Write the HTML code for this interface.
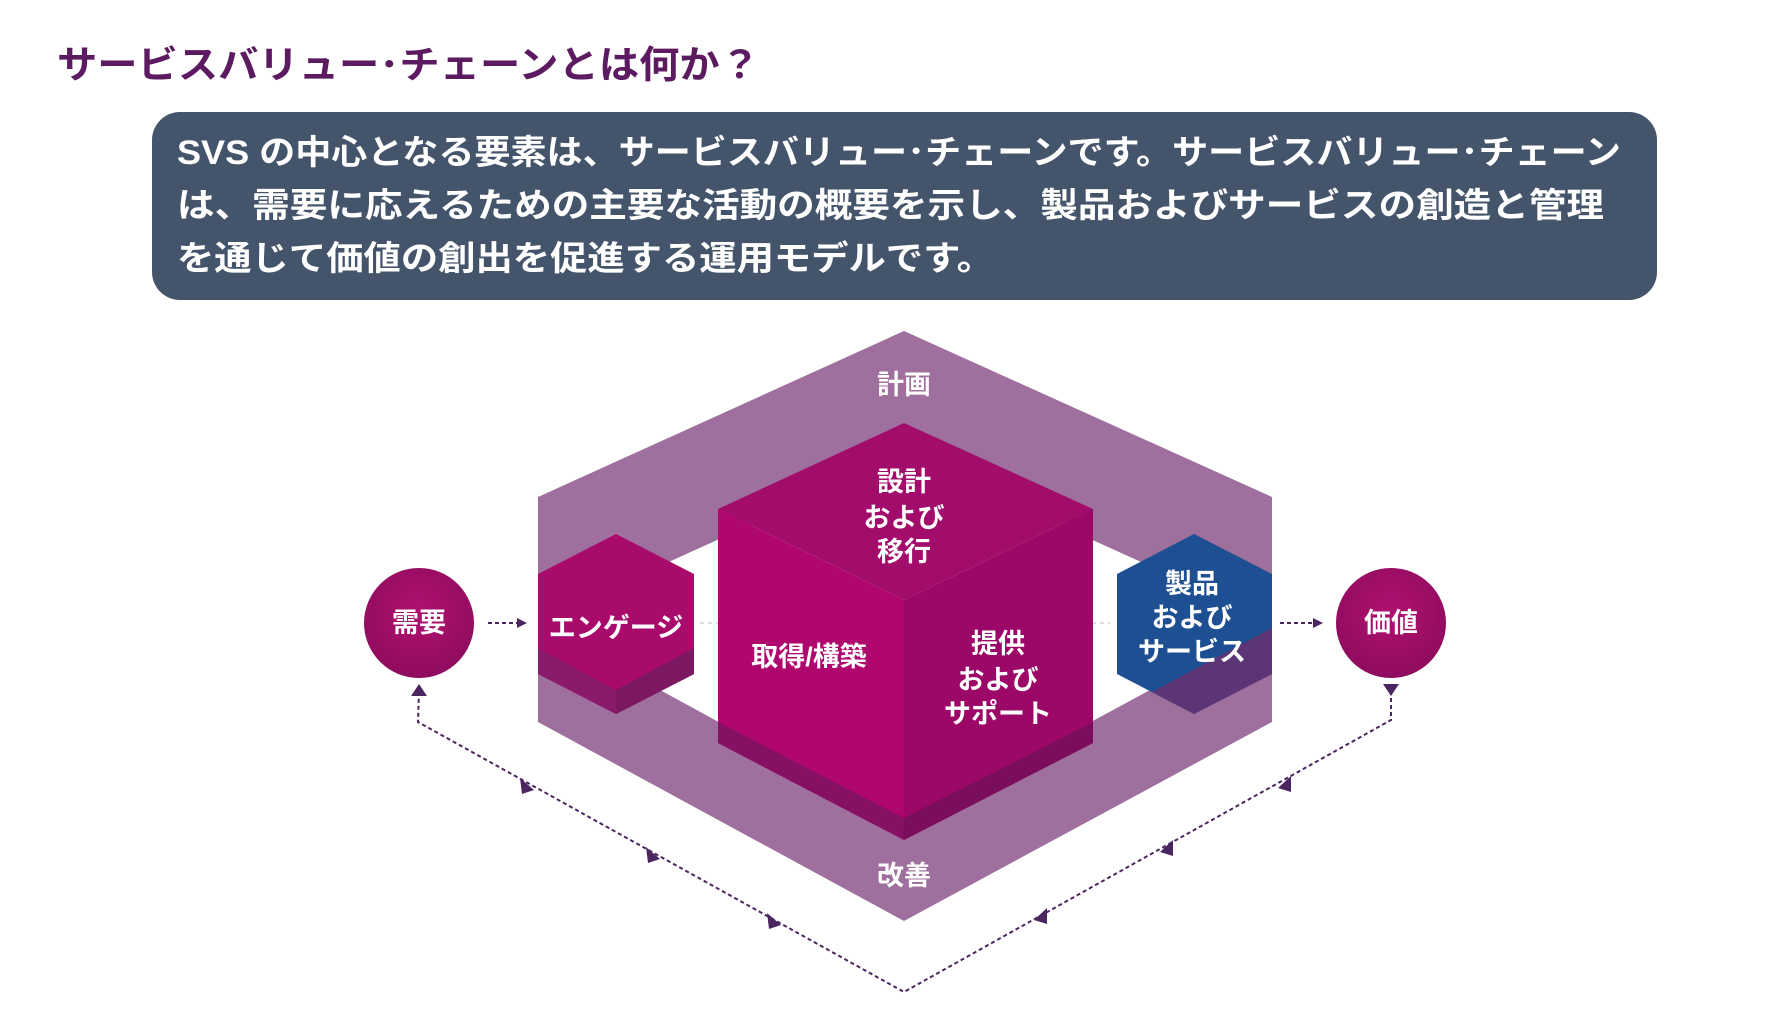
<!DOCTYPE html>
<html><head><meta charset="utf-8"><style>
body{margin:0;width:1792px;height:1034px;background:#fff;overflow:hidden;font-family:"Liberation Sans","Noto Sans CJK JP",sans-serif}
svg{position:absolute;left:0;top:0}
</style></head><body>
<svg width="1792" height="1034" viewBox="0 0 1792 1034" xmlns="http://www.w3.org/2000/svg" font-family="Liberation Sans, Noto Sans CJK JP, sans-serif">
<defs>
<radialGradient id="cg" cx="50%" cy="40%" r="60%"><stop offset="0" stop-color="#b0106f"/><stop offset="1" stop-color="#8f0c5f"/></radialGradient>
<marker id="ah" viewBox="0 0 10 10" refX="5" refY="5" markerWidth="5" markerHeight="6" orient="auto"><path d="M0,0L10,5L0,10z" fill="#4b2560"/></marker>
</defs>
<text x="57" y="78" font-size="38" font-weight="bold" fill="#5c1a60" textLength="703" lengthAdjust="spacingAndGlyphs">サービスバリュー･チェーンとは何か？</text>
<rect x="152" y="112" width="1505" height="188" rx="28" fill="#44546a"/>
<g font-size="34" font-weight="bold" fill="#fff">
<text x="177" y="164" textLength="1444" lengthAdjust="spacingAndGlyphs">SVS の中心となる要素は、サービスバリュー･チェーンです。サービスバリュー･チェーン</text>
<text x="177" y="217" textLength="1427" lengthAdjust="spacingAndGlyphs">は、需要に応えるための主要な活動の概要を示し、製品およびサービスの創造と管理</text>
<text x="177" y="270" textLength="817" lengthAdjust="spacingAndGlyphs">を通じて価値の創出を促進する運用モデルです。</text>
</g>
<path fill-rule="evenodd" fill="#9f709d" d="M904,331 L1272,497 L1272,722 L904,921 L538,722 L538,497 Z M904,455 L660,566 L660,690 L904,823 L1150,690 L1150,566 Z"/>
<line x1="700" y1="623" x2="1110" y2="623" stroke="#d8d0d8" stroke-width="1.5" stroke-dasharray="4,4"/>
<polygon points="904,423 1093,509 904,600 718,509" fill="#a20c6b"/>
<polygon points="718,509 904,600 904,840 718,743" fill="#b0076f"/>
<polygon points="904,600 1093,509 1093,743 904,840" fill="#9c0867"/>
<polygon points="718,743 904,840 904,818 718,722" fill="#861063"/>
<polygon points="904,840 1093,743 1093,722 904,818" fill="#7a0e5c"/>
<polygon points="616,534 694,574 694,674 616,714 538,674 538,574" fill="#a90b6c"/>
<polygon points="538,648 616,690 694,648 694,674 616,714 538,674" fill="#8a1a6b"/>
<polygon points="616,690 694,648 694,674 616,714" fill="#7c1862"/>
<polygon points="1194,534 1272,574 1272,674 1194,714 1117,674 1117,574" fill="#1d4f92"/>
<polygon points="1272,628 1272,674 1194,714 1152,692" fill="#5b3574"/>
<circle cx="419" cy="623" r="55" fill="url(#cg)"/>
<circle cx="1391" cy="623" r="55" fill="url(#cg)"/>
<g stroke="#4b2560" stroke-width="2" stroke-dasharray="4,3" fill="none">
<line x1="488" y1="623" x2="522" y2="623" marker-end="url(#ah)"/>
<line x1="1280" y1="623" x2="1318" y2="623" marker-end="url(#ah)"/>
<polyline points="1391,684 1391,720 904,992 418,722 419,690"/>
</g>
<g fill="#4b2560">
<polygon points="1383,684 1399,684 1391,696"/>
<polygon points="411,696 427,696 419,684"/>
<polygon points="1291,776 1291,792 1278,788"/>
<polygon points="1173,840 1173,856 1160,852"/>
<polygon points="1047,908 1047,924 1034,920"/>
<polygon points="520,778 534,790 522,794"/>
<polygon points="646,847 660,859 648,863"/>
<polygon points="767,913 781,925 769,929"/>
</g>
<g fill="#fff" font-weight="bold" text-anchor="middle" font-size="27">
<text x="904" y="394">計画</text>
<text x="904" y="885">改善</text>
<text x="904" y="491">設計</text>
<text x="904" y="527">および</text>
<text x="904" y="561">移行</text>
<text x="809" y="666">取得/構築</text>
<text x="998" y="653">提供</text>
<text x="998" y="689">および</text>
<text x="998" y="723">サポート</text>
<text x="616" y="637">エンゲージ</text>
<text x="1192" y="593">製品</text>
<text x="1192" y="627">および</text>
<text x="1192" y="661">サービス</text>
<text x="419" y="632">需要</text>
<text x="1391" y="632">価値</text>
</g>
</svg>
</body></html>
